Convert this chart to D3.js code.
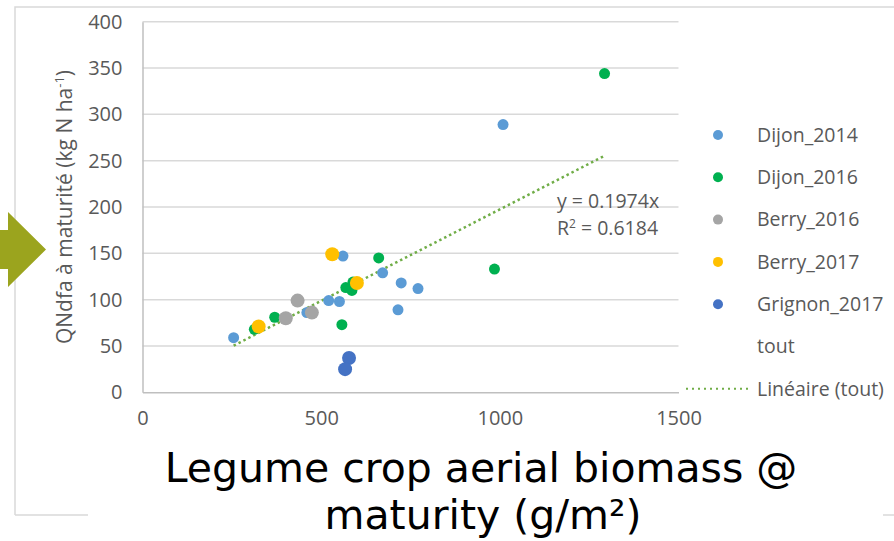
<!DOCTYPE html>
<html>
<head>
<meta charset="utf-8">
<script src="https://cdn.jsdelivr.net/npm/d3@7"></script>
<style>
  html, body { margin: 0; padding: 0; background: #fff; }
  svg { display: block; }
</style>
</head>
<body>
<svg id="chart" width="894" height="541"></svg>
<script>
// ---- data ----
const seriesNames = ["Dijon_2014", "Dijon_2016", "Berry_2016", "Berry_2017", "Grignon_2017"];
const seriesColors = ["#5B9BD5", "#00B050", "#A5A5A5", "#FFC000", "#4472C4"];
const dijon2014 = [[255, 59], [460, 86], [521, 99], [551, 98], [561, 147], [672, 129], [715, 89], [724, 118], [771, 112], [1009, 289]];
const dijon2016 = [[313, 68], [370, 81], [558, 73], [569, 113], [586, 110], [589, 119], [661, 145], [985, 133], [1293, 344]];
const berry2016 = [[401, 80], [434, 99], [474, 86]];
const berry2017 = [[325, 71], [531, 149], [600, 118]];
const grignon2017 = [[578, 37], [567, 25]];
const xTicks = [0, 500, 1000, 1500];
const yTicks = [0, 50, 100, 150, 200, 250, 300, 350, 400];
const slope = 0.1974;
const r2 = 0.6184;

const seriesData = [dijon2014, dijon2016, berry2016, berry2017, grignon2017];
const seriesRadius = [5.5, 5.5, 7, 7, 7];

const svg = d3.select("#chart");
const x = d3.scaleLinear().domain([0, 1500]).range([142.5, 678.5]);
const y = d3.scaleLinear().domain([0, 400]).range([392.3, 21.7]);
const textColor = "#595959";
const font = "'Open Sans', sans-serif";

// outer chart frame
svg.append("path")
  .attr("d", "M15,515 L15,7 L894,7 M15,515 L894,515")
  .attr("fill", "none").attr("stroke", "#d9d9d9").attr("stroke-width", 1.5);

// gridlines
svg.append("g").selectAll("line").data(yTicks.filter(d => d > 0)).join("line")
  .attr("x1", x(0)).attr("x2", x(1500))
  .attr("y1", d => y(d)).attr("y2", d => y(d))
  .attr("stroke", "#d9d9d9").attr("stroke-width", 1.5);

// axes
const yAxis = svg.append("g").attr("transform", `translate(${x(0)},0)`)
  .call(d3.axisLeft(y).tickValues(yTicks).tickSize(0).tickPadding(20).tickFormat(d3.format("d")));
const xAxis = svg.append("g").attr("transform", `translate(0,${y(0)})`)
  .call(d3.axisBottom(x).tickValues(xTicks).tickSize(0).tickPadding(19).tickFormat(d3.format("d")));
[xAxis, yAxis].forEach(g => {
  g.select(".domain").attr("stroke", "#bfbfbf").attr("stroke-width", 1.5);
  g.selectAll("text").attr("fill", textColor).attr("font-family", font).attr("font-size", 20);
});
xAxis.select(".domain").raise();

// y axis title
const yt = svg.append("text")
  .attr("transform", "translate(72,207) rotate(-90)")
  .attr("text-anchor", "middle")
  .attr("fill", textColor).attr("font-family", font).attr("font-size", 21);
yt.append("tspan").text("QNdfa à maturité (kg N ha");
yt.append("tspan").attr("dy", -8).attr("font-size", 13).text("-1");
yt.append("tspan").attr("dy", 8).text(")");

// trend line
const allX = seriesData.flat().map(d => d[0]);
const tx = d3.extent(allX);
svg.append("line")
  .attr("x1", x(tx[0])).attr("y1", y(slope * tx[0]))
  .attr("x2", x(tx[1])).attr("y2", y(slope * tx[1]))
  .attr("stroke", "#70AD47").attr("stroke-width", 2.5)
  .attr("stroke-dasharray", "2.5 3").attr("stroke-linecap", "butt");

// points
seriesData.forEach((data, i) => {
  svg.append("g").selectAll("circle").data(data).join("circle")
    .attr("cx", d => x(d[0])).attr("cy", d => y(d[1]))
    .attr("r", seriesRadius[i])
    .attr("fill", seriesColors[i]);
});

// equation
const eq = svg.append("g").attr("fill", textColor).attr("font-family", font).attr("font-size", 19.5);
eq.append("text").attr("x", 557).attr("y", 208).text("y = " + slope + "x");
const r2t = eq.append("text").attr("x", 557).attr("y", 235);
r2t.append("tspan").text("R");
r2t.append("tspan").attr("dy", -7).attr("font-size", 12).text("2");
r2t.append("tspan").attr("dy", 7).text(" = " + r2);

// legend
const legend = svg.append("g").attr("font-family", font).attr("font-size", 19.5).attr("fill", textColor);
const legendRows = seriesNames.concat(["tout", "Linéaire (tout)"]);
legendRows.forEach((name, i) => {
  const ly = 135 + i * 42.3;
  if (i < seriesNames.length) {
    legend.append("circle").attr("cx", 718).attr("cy", ly).attr("r", 5).attr("fill", seriesColors[i]);
  }
  if (name.startsWith("Linéaire")) {
    legend.append("line").attr("x1", 686).attr("x2", 748).attr("y1", ly).attr("y2", ly)
      .attr("stroke", "#70AD47").attr("stroke-width", 2).attr("stroke-dasharray", "2 4");
  }
  legend.append("text").attr("x", 757).attr("y", ly).attr("dy", "0.35em").text(name);
});

// white box behind x title
svg.append("rect").attr("x", 88).attr("y", 445).attr("width", 795).attr("height", 96).attr("fill", "#fff");

// x axis title
const xt = svg.append("text").attr("text-anchor", "middle")
  .attr("font-family", "'DejaVu Sans', sans-serif").attr("font-size", 41).attr("fill", "#000");
xt.append("tspan").attr("x", 481).attr("y", 482).text("Legume crop aerial biomass @");
xt.append("tspan").attr("x", 483).attr("y", 529).text("maturity (g/m²)");

// olive arrow
svg.append("path")
  .attr("d", "M0,230 L8,230 L8,212 L46,249.5 L8,287 L8,269 L0,269 Z")
  .attr("fill", "#9BA41E");
</script>
</body>
</html>
